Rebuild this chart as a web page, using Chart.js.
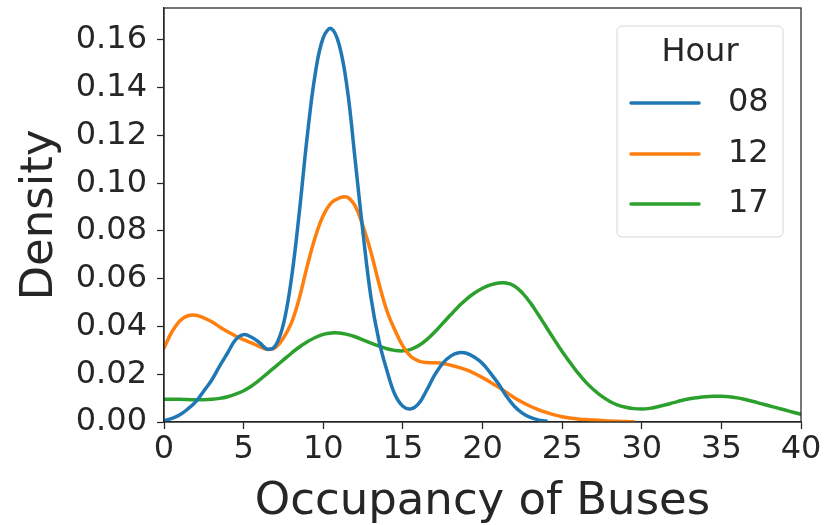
<!DOCTYPE html>
<html>
<head>
<meta charset="utf-8">
<script src="https://cdn.jsdelivr.net/npm/chart.js@4/dist/chart.umd.min.js"></script>
<style>
  html, body { margin: 0; padding: 0; background: #ffffff; }
  canvas { display: block; }
</style>
</head>
<body>
<canvas id="c" width="840" height="525"></canvas>
<script>
// ---- Data ----
const seriesLabels = ["08", "12", "17"];
const legendTitle = "Hour";
const xAxisTitle = "Occupancy of Buses";
const yAxisTitle = "Density";
const xTickValues = [0, 5, 10, 15, 20, 25, 30, 35, 40];
const yTickValues = [0.00, 0.02, 0.04, 0.06, 0.08, 0.10, 0.12, 0.14, 0.16];

const x08 = [0,0.5,1,1.5,2,2.5,3,3.5,4,4.5,5,5.5,6,6.5,7,7.5,8,8.5,9,9.5,10,10.5,11,11.5,12,12.5,13,13.5,14,14.5,15,15.5,16,16.5,17,17.5,18,18.5,19,19.5,20,20.5,21,21.5,22,22.5,23,23.5,24];
const y08 = [0.0005,0.0015,0.003,0.0055,0.0085,0.013,0.0176,0.0235,0.029,0.0345,0.0366,0.0355,0.0332,0.0305,0.032,0.041,0.060,0.088,0.120,0.146,0.161,0.1648,0.158,0.140,0.110,0.079,0.052,0.034,0.0215,0.0115,0.0066,0.0055,0.0078,0.0134,0.0197,0.0246,0.0276,0.029,0.0288,0.0271,0.0245,0.0205,0.016,0.0108,0.0066,0.0037,0.0019,0.0009,0.0004];

const x12 = [0,0.5,1,1.5,2,2.5,3,3.5,4,4.5,5,5.5,6,6.5,7,7.5,8,8.5,9,9.5,10,10.5,11,11.5,12,12.5,13,13.5,14,14.5,15,15.5,16,16.5,17,17.5,18,18.5,19,19.5,20,20.5,21,21.5,22,22.5,23,23.5,24,24.5,25,25.5,26,26.5,27,27.5,28,28.5,29,29.5];
const y12 = [0.031,0.0378,0.0424,0.0445,0.0447,0.0436,0.042,0.0398,0.0378,0.036,0.0345,0.0331,0.0316,0.0304,0.0312,0.0352,0.0415,0.052,0.0655,0.0775,0.0865,0.0918,0.0938,0.0942,0.0905,0.082,0.071,0.058,0.0465,0.0385,0.0318,0.0274,0.0255,0.0249,0.0248,0.0245,0.0238,0.0229,0.0218,0.0203,0.0186,0.0167,0.0146,0.0124,0.0102,0.0083,0.0066,0.0052,0.004,0.003,0.0022,0.0017,0.0013,0.001,0.0008,0.0006,0.0004,0.0003,0.0002,0.0001];

const x17 = [0,0.5,1,1.5,2,2.5,3,3.5,4,4.5,5,5.5,6,6.5,7,7.5,8,8.5,9,9.5,10,10.5,11,11.5,12,12.5,13,13.5,14,14.5,15,15.5,16,16.5,17,17.5,18,18.5,19,19.5,20,20.5,21,21.5,22,22.5,23,23.5,24,24.5,25,25.5,26,26.5,27,27.5,28,28.5,29,29.5,30,30.5,31,31.5,32,32.5,33,33.5,34,34.5,35,35.5,36,36.5,37,37.5,38,38.5,39,39.5,40];
const y17 = [0.0095,0.0095,0.0095,0.0094,0.0093,0.0093,0.0095,0.0099,0.0106,0.0117,0.0131,0.0151,0.0176,0.0204,0.0232,0.026,0.0288,0.0314,0.0336,0.0354,0.0367,0.0373,0.0373,0.0367,0.0357,0.0344,0.033,0.0318,0.0307,0.0300,0.0298,0.0304,0.0320,0.0345,0.0377,0.0413,0.0449,0.0484,0.0515,0.0540,0.0560,0.0574,0.0582,0.0582,0.0570,0.0541,0.0500,0.0450,0.0398,0.0346,0.0295,0.0249,0.0205,0.0166,0.0134,0.0107,0.0086,0.0071,0.0062,0.0056,0.0054,0.0057,0.0064,0.0072,0.0081,0.009,0.0097,0.0102,0.0106,0.0108,0.0108,0.0106,0.0101,0.0094,0.0086,0.0077,0.0068,0.0059,0.005,0.0041,0.0032];

const seriesColors = ["#1f77b4", "#ff7f0e", "#2ca02c"];

// ---- Build datasets ----
function pts(xs, ys) { return xs.map((x, i) => ({ x: x, y: ys[i] })); }
const seriesData = [pts(x08, y08), pts(x12, y12), pts(x17, y17)];
const datasets = seriesLabels.map((lab, i) => ({
  label: lab,
  data: seriesData[i],
  borderColor: seriesColors[i],
  backgroundColor: seriesColors[i],
  borderWidth: 3.5,
  pointRadius: 0,
  fill: false,
  tension: 0.4,
  borderCapStyle: 'round',
  borderJoinStyle: 'round'
}));

const TEXT = "#262626";
const FONT = "'DejaVu Sans', 'Liberation Sans', sans-serif";

// Frame (top/right spines) plugin
const framePlugin = {
  id: 'frame',
  afterDatasetsDraw(chart) {
    const { ctx, chartArea: a } = chart;
    ctx.save();
    ctx.strokeStyle = TEXT;
    ctx.lineWidth = 1.25;
    ctx.strokeRect(a.left, a.top, a.right - a.left, a.bottom - a.top);
    ctx.restore();
  }
};

// Legend plugin (matplotlib-style box inside plot)
const legendPlugin = {
  id: 'mplLegend',
  afterDraw(chart) {
    const { ctx } = chart;
    const bx = 617, by = 26, bw = 166, bh = 211, r = 5;
    ctx.save();
    ctx.beginPath();
    ctx.moveTo(bx + r, by);
    ctx.arcTo(bx + bw, by, bx + bw, by + bh, r);
    ctx.arcTo(bx + bw, by + bh, bx, by + bh, r);
    ctx.arcTo(bx, by + bh, bx, by, r);
    ctx.arcTo(bx, by, bx + bw, by, r);
    ctx.closePath();
    ctx.fillStyle = "rgba(255,255,255,0.8)";
    ctx.fill();
    ctx.strokeStyle = "#d6d6d6";
    ctx.lineWidth = 1;
    ctx.stroke();

    ctx.fillStyle = TEXT;
    ctx.font = "32px " + FONT;
    ctx.textAlign = "center";
    ctx.textBaseline = "middle";
    ctx.fillText(legendTitle, 700, 53);

    const rows = [103, 154, 204];
    chart.data.datasets.forEach((ds, i) => {
      const y = rows[i];
      ctx.strokeStyle = ds.borderColor;
      ctx.lineWidth = 3.5;
      ctx.lineCap = "round";
      ctx.beginPath();
      ctx.moveTo(631, y);
      ctx.lineTo(699, y);
      ctx.stroke();
      ctx.fillStyle = TEXT;
      ctx.textAlign = "left";
      ctx.fillText(ds.label, 728, y);
    });
    ctx.restore();
  }
};

new Chart(document.getElementById('c'), {
  type: 'line',
  data: { datasets: datasets },
  options: {
    responsive: false,
    devicePixelRatio: 1,
    animation: false,
    layout: { padding: { left: 0, right: 39, top: 8, bottom: 0 } },
    plugins: { legend: { display: false }, tooltip: { enabled: false } },
    scales: {
      x: {
        type: 'linear',
        min: 0, max: 40,
        afterBuildTicks(scale) { scale.ticks = xTickValues.map(v => ({ value: v })); },
        afterFit(scale) { scale.height = 103; scale.paddingLeft = 0; scale.paddingRight = 0; },
        ticks: {
          color: TEXT,
          font: { family: FONT, size: 32 },
          padding: 1,
          maxRotation: 0,
          autoSkip: false,
          callback: v => String(v)
        },
        grid: { drawOnChartArea: false, drawTicks: true, tickLength: 7, tickColor: TEXT, tickWidth: 1.25 },
        border: { display: true, color: TEXT, width: 1.25 },
        title: {
          display: true, text: xAxisTitle, color: TEXT,
          font: { family: FONT, size: 45, lineHeight: 1.0 },
          padding: { top: 0, bottom: 0 }
        }
      },
      y: {
        type: 'linear',
        min: 0, max: 0.1734,
        afterBuildTicks(scale) { scale.ticks = yTickValues.map(v => ({ value: v })); },
        afterFit(scale) { scale.width = 164; scale.paddingTop = 0; scale.paddingBottom = 0; },
        ticks: {
          color: TEXT,
          font: { family: FONT, size: 32 },
          padding: 10,
          autoSkip: false,
          callback: v => Number(v).toFixed(2)
        },
        grid: { drawOnChartArea: false, drawTicks: true, tickLength: 7, tickColor: TEXT, tickWidth: 1.25 },
        border: { display: true, color: TEXT, width: 1.25 },
        title: {
          display: true, text: yAxisTitle, color: TEXT,
          font: { family: FONT, size: 45, lineHeight: 1.0 },
          padding: { top: 18, bottom: 0 }
        }
      }
    }
  },
  plugins: [framePlugin, legendPlugin]
});
</script>
</body>
</html>
